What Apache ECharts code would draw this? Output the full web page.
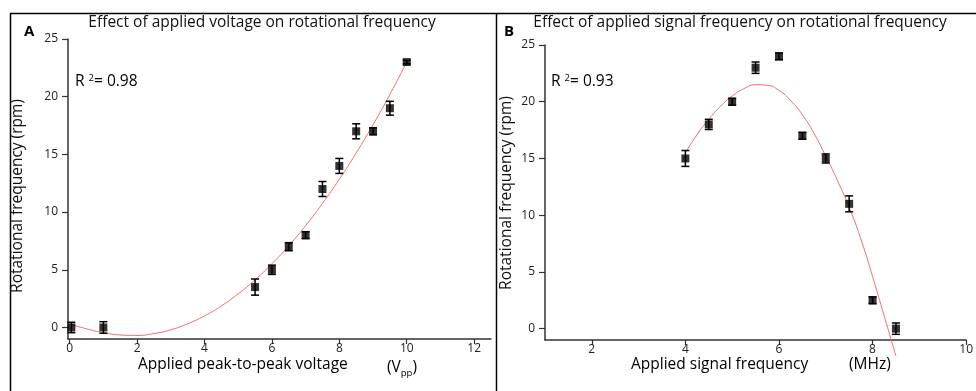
<!DOCTYPE html>
<html><head><meta charset="utf-8">
<script src="https://cdn.jsdelivr.net/npm/echarts@6/dist/echarts.min.js"></script>
<style>html,body{margin:0;padding:0;background:#fff}#c{width:976px;height:391px}</style>
</head><body><div id="c"></div>
<script>
// Panel A: applied voltage vs rotational frequency
const voltX = [0.05, 1, 5.5, 6, 6.5, 7, 7.5, 8, 8.5, 9, 9.5, 10];
const voltY = [0, 0, 3.5, 5, 7, 8, 12, 14, 17, 17, 19, 23];
const voltErr = [0.45, 0.5, 0.7, 0.4, 0.35, 0.3, 0.65, 0.65, 0.65, 0.3, 0.6, 0.15];
// fitted curve
const voltFitX = [0, 0.5, 1, 1.5, 2, 2.5, 3, 3.5, 4, 4.5, 5, 5.5, 6, 6.5, 7, 7.5, 8, 8.5, 9, 9.5, 10];
const voltFitY = [0.3, -0.12, -0.45, -0.65, -0.69, -0.53, -0.2, 0.32, 1.0, 1.87, 2.91, 4.13, 5.52, 7.08, 8.83, 10.75, 12.85, 15.12, 17.57, 20.2, 23.0];
// Panel B: applied signal frequency vs rotational frequency
const freqX = [4, 4.5, 5, 5.5, 6, 6.5, 7, 7.5, 8, 8.5];
const freqY = [15, 18, 20, 23, 24, 17, 15, 11, 2.5, 0];
const freqErr = [0.7, 0.45, 0.3, 0.5, 0.3, 0.3, 0.4, 0.7, 0.3, 0.5];
// fitted curve
const freqFitX = [4, 4.25, 4.5, 4.75, 5, 5.25, 5.5, 5.75, 6, 6.25, 6.5, 6.75, 7, 7.25, 7.5, 7.75, 8, 8.25, 8.5];
const freqFitY = [15.5, 17.1, 18.45, 19.6, 20.5, 21.15, 21.5, 21.45, 21.0, 20.1, 18.85, 17.2, 15.2, 13.05, 10.7, 7.9, 4.6, 1.1, -2.4];
// ticks
const yTicks = [0, 5, 10, 15, 20, 25];
const voltTicks = [0, 2, 4, 6, 8, 10, 12];
const freqTicks = [2, 4, 6, 8, 10];

const FONT = '"Open Sans", "Noto Sans", sans-serif';
const AX = '#333';

function pairs(xs, ys) { return xs.map((x, i) => [x, ys[i]]); }
function errs(xs, ys, es) { return xs.map((x, i) => [x, ys[i] - es[i], ys[i] + es[i]]); }

function errRender(params, api) {
  const x = api.value(0), lo = api.value(1), hi = api.value(2);
  const a = api.coord([x, lo]), b = api.coord([x, hi]);
  const w = 4;
  const st = { stroke: '#000', lineWidth: 1.5 };
  return { type: 'group', children: [
    { type: 'line', shape: { x1: a[0], y1: a[1], x2: b[0], y2: b[1] }, style: st },
    { type: 'line', shape: { x1: a[0] - w, y1: a[1], x2: a[0] + w, y2: a[1] }, style: st },
    { type: 'line', shape: { x1: b[0] - w, y1: b[1], x2: b[0] + w, y2: b[1] }, style: st }
  ]};
}

function xAxisCfg(grid, min, max, ticks) {
  return {
    type: 'value', gridIndex: grid, min: min, max: max,
    axisLine: { show: true, onZero: false, lineStyle: { color: AX, width: 1.5 } },
    axisTick: { show: true, length: 5, customValues: ticks, lineStyle: { color: AX, width: 1.2 } },
    axisLabel: { customValues: ticks, fontSize: 12, color: '#222', margin: 4, fontFamily: FONT },
    splitLine: { show: false }
  };
}
function yAxisCfg(grid) {
  return {
    type: 'value', gridIndex: grid, min: -1, max: 25,
    axisLine: { show: true, onZero: false, lineStyle: { color: AX, width: 1.5 } },
    axisTick: { show: true, length: 6, customValues: yTicks, lineStyle: { color: AX, width: 1.2 } },
    axisLabel: { customValues: yTicks, fontSize: 12, color: '#222', margin: 10, fontFamily: FONT },
    splitLine: { show: false }
  };
}

const rich = {
  n: { fontSize: 15.5, fontFamily: FONT, color: '#111' },
  sup: { fontSize: 9.5, fontFamily: FONT, color: '#111', verticalAlign: 'top', padding: [0, 0, 8, 0] },
  sub: { fontSize: 9.5, fontFamily: FONT, color: '#111', padding: [11, 0, 0, 0] }
};

const chart = echarts.init(document.getElementById('c'), null, { renderer: 'canvas' });
chart.setOption({
  animation: false,
  backgroundColor: '#fff',
  grid: [
    { left: 68, right: 485, top: 39, bottom: 52 },
    { left: 545, right: -5, top: 45, bottom: 51 }
  ],
  xAxis: [xAxisCfg(0, -0.05, 12.5, voltTicks), xAxisCfg(1, 1, 10, freqTicks)],
  yAxis: [yAxisCfg(0), yAxisCfg(1)],
  series: [
    { type: 'line', xAxisIndex: 0, yAxisIndex: 0, data: pairs(voltFitX, voltFitY), smooth: 0.5,
      showSymbol: false, symbol: 'none', clip: false,
      lineStyle: { color: '#f26d6d', width: 1 }, z: 1 },
    { type: 'custom', xAxisIndex: 0, yAxisIndex: 0, data: errs(voltX, voltY, voltErr),
      renderItem: errRender, encode: { x: 0, y: [1, 2] }, z: 2 },
    { type: 'scatter', xAxisIndex: 0, yAxisIndex: 0, data: pairs(voltX, voltY), symbol: 'rect',
      symbolSize: 8, itemStyle: { color: '#000' }, z: 3 },
    { type: 'line', xAxisIndex: 1, yAxisIndex: 1, data: pairs(freqFitX, freqFitY), smooth: 0.5,
      showSymbol: false, symbol: 'none', clip: false,
      lineStyle: { color: '#f26d6d', width: 1 }, z: 1 },
    { type: 'custom', xAxisIndex: 1, yAxisIndex: 1, data: errs(freqX, freqY, freqErr),
      renderItem: errRender, encode: { x: 0, y: [1, 2] }, z: 2 },
    { type: 'scatter', xAxisIndex: 1, yAxisIndex: 1, data: pairs(freqX, freqY), symbol: 'rect',
      symbolSize: 8, itemStyle: { color: '#000' }, z: 3 }
  ],
  graphic: [
    { type: 'line', shape: { x1: 10, y1: 13.5, x2: 976, y2: 13.5 }, style: { stroke: '#000', lineWidth: 1.5 } },
    { type: 'line', shape: { x1: 10.5, y1: 13, x2: 10.5, y2: 391 }, style: { stroke: '#000', lineWidth: 1.5 } },
    { type: 'line', shape: { x1: 496.5, y1: 13, x2: 496.5, y2: 391 }, style: { stroke: '#000', lineWidth: 1.5 } },
    { type: 'text', left: 24, top: 24, style: { text: 'A', font: 'bold 15px ' + FONT, fill: '#000' } },
    { type: 'text', left: 504, top: 24, style: { text: 'B', font: 'bold 15px ' + FONT, fill: '#000' } },
    { type: 'text', x: 262, y: 23, style: { text: 'Effect of applied voltage on rotational frequency',
      font: '15.5px ' + FONT, fill: '#111', align: 'center', verticalAlign: 'middle' } },
    { type: 'text', x: 740, y: 23, style: { text: 'Effect of applied signal frequency on rotational frequency',
      font: '15.5px ' + FONT, fill: '#111', align: 'center', verticalAlign: 'middle' } },
    { type: 'text', x: 75, y: 73, style: { text: '{n|R }{sup|2}{n|= 0.98}', rich: rich } },
    { type: 'text', x: 551, y: 73, style: { text: '{n|R }{sup|2}{n|= 0.93}', rich: rich } },
    { type: 'text', x: 138, y: 357, style: { text: '{n|Applied peak-to-peak voltage}', rich: rich } },
    { type: 'text', x: 387, y: 357, style: { text: '{n|(V}{sub|pp}{n|)}', rich: rich } },
    { type: 'text', x: 631, y: 357, style: { text: '{n|Applied signal frequency}', rich: rich } },
    { type: 'text', x: 849, y: 357, style: { text: '{n|(MHz)}', rich: rich } },
    { type: 'text', x: 18, y: 196, rotation: Math.PI / 2, style: { text: 'Rotational frequency (rpm)',
      font: '15.5px ' + FONT, fill: '#111', align: 'center', verticalAlign: 'middle' } },
    { type: 'text', x: 507, y: 193, rotation: Math.PI / 2, style: { text: 'Rotational frequency (rpm)',
      font: '15.5px ' + FONT, fill: '#111', align: 'center', verticalAlign: 'middle' } }
  ]
});
</script></body></html>
